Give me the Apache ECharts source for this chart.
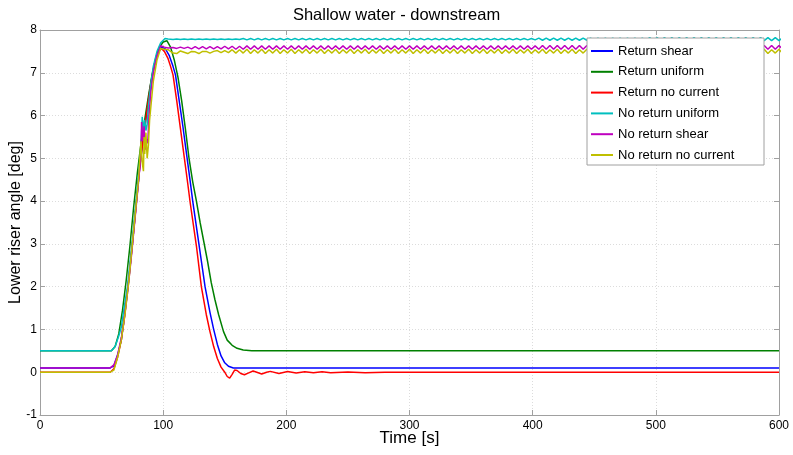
<!DOCTYPE html>
<html>
<head>
    <meta charset="utf-8">
    <title>Shallow water - downstream</title>
    <script src="https://cdn.jsdelivr.net/npm/echarts@6/dist/echarts.min.js"></script>
</head>
<body style="margin:0;background:#fff;">
<div id="main" style="width: 793px;height:455px;"></div>
<script type="text/javascript">

    // 图例名称
    let names = ['Return shear', 'Return uniform', 'Return no current',
        'No return uniform', 'No return shear', 'No return no current'];
    let colors = ['#0000ff', '#008000', '#ff0000', '#00bfbf', '#bf00bf', '#bfbf00'];

    // 刻度
    let xTicks = [0, 100, 200, 300, 400, 500, 600];
    let yTicks = [-1, 0, 1, 2, 3, 4, 5, 6, 7, 8];

    // [t, angle] 读图所得
    let returnShear = [[0, 0.1], [57, 0.1], [60, 0.15], [63, 0.4], [66, 0.75], [69, 1.4], [72, 2.15], [75, 3.0],
        [78, 3.9], [81, 4.8], [84, 5.5], [87, 6.15], [90, 6.75], [93, 7.2], [96, 7.5], [99, 7.6], [102, 7.55],
        [105, 7.4], [108, 7.15], [110, 6.95], [113, 6.35], [116, 5.75], [119, 5.1], [122, 4.45], [124, 4.0],
        [129, 3.0], [134, 2.0], [138, 1.4], [141, 1.0], [144, 0.65], [147, 0.38], [150, 0.22], [153, 0.14],
        [157, 0.1], [600, 0.1]];

    let returnUniform = [[0, 0.5], [58, 0.5], [61, 0.6], [64, 0.9], [67, 1.45], [70, 2.15], [73, 2.95],
        [76, 3.85], [79, 4.65], [82, 5.35], [85, 5.9], [88, 6.45], [91, 6.95], [94, 7.35], [97, 7.6], [100, 7.72],
        [103, 7.75], [106, 7.6], [109, 7.3], [112, 6.9], [115, 6.35], [118, 5.7], [121, 5.0], [124, 4.45],
        [127, 4.0], [130, 3.5], [133, 3.05], [136, 2.6], [139, 2.1], [142, 1.7], [145, 1.35], [149, 0.95],
        [152, 0.75], [156, 0.63], [160, 0.56], [165, 0.52], [172, 0.5], [600, 0.5]];

    let returnNoCurrent = [[0, 0], [57, 0], [60, 0.08], [63, 0.35], [66, 0.75], [69, 1.4], [72, 2.15], [75, 3.0],
        [78, 3.9], [81, 4.8], [84, 5.5], [87, 6.15], [90, 6.75], [93, 7.2], [96, 7.48], [98.5, 7.57], [101, 7.5],
        [104, 7.33], [106, 7.15], [108, 6.95], [111, 6.35], [114, 5.7], [117, 5.05], [120, 4.4], [122, 3.95],
        [127, 2.95], [131, 2.0], [135, 1.35], [138, 0.95], [141, 0.6], [144, 0.32], [147, 0.12], [150, 0.0],
        [152, -0.1], [154, -0.14], [156, -0.05], [158, 0.05], [160, 0.04], [163, -0.03], [166, -0.06],
        [169, -0.02], [173, 0.03], [176, 0.0], [180, -0.04], [184, 0.0], [187, 0.02], [194, -0.03], [201, 0.015],
        [208, -0.02], [215, 0.01], [222, -0.015], [229, 0.01], [236, -0.01], [250, 0.005], [264, -0.01],
        [280, 0.0], [600, 0.0]];

    // 上升段 (到 t=104)
    let noReturnUniformRise = [[0, 0.5], [58, 0.5], [61, 0.6], [64, 0.85], [66, 1.05], [68, 1.45], [71, 2.0],
        [74, 2.8], [77, 3.7], [80, 4.6], [82, 5.3], [83, 5.97], [84, 5.6], [85, 5.9], [86, 5.65], [87, 5.8],
        [88, 6.2], [90, 6.75], [92, 7.15], [95, 7.5], [98, 7.7], [101.5, 7.8], [104, 7.79]];

    let noReturnShearRise = [[0, 0.1], [57, 0.1], [60, 0.17], [63, 0.4], [66, 0.8], [68, 1.15], [71, 1.85],
        [74, 2.65], [77, 3.55], [80, 4.45], [82, 5.1], [82.5, 5.85], [83.5, 5.4], [84.5, 5.75], [85.5, 5.2],
        [86.5, 5.45], [87.5, 5.35], [88.5, 6.0], [90, 6.55], [92, 7.0], [95, 7.4], [98, 7.63], [101, 7.6],
        [104, 7.58]];

    let noReturnNoCurrentRise = [[0, 0], [57, 0], [60, 0.05], [63, 0.35], [66, 0.75], [69, 1.35], [72, 2.1],
        [75, 3.0], [78, 3.9], [80, 4.5], [81, 5.0], [82, 5.4], [83, 4.9], [84, 4.7], [84.5, 5.5], [85, 5.1],
        [86, 5.6], [87, 5.0], [88, 5.3], [89, 5.9], [90, 6.2], [92, 6.8], [95, 7.3], [98, 7.57], [101, 7.55],
        [104, 7.54]];

    // 平台段, 从 t=105 起每 3 s 一个值
    let tailStart = 105;
    let tailStep = 3;

    let noReturnUniformTail = [
        7.79, 7.78, 7.79, 7.78, 7.79, 7.78, 7.79, 7.78, 7.79, 7.78,
        7.79, 7.78, 7.79, 7.78, 7.79, 7.78, 7.79, 7.78, 7.79, 7.78,
        7.80, 7.77, 7.80, 7.77, 7.80, 7.77, 7.80, 7.77, 7.80, 7.77,
        7.80, 7.77, 7.80, 7.77, 7.80, 7.77, 7.80, 7.77, 7.80, 7.77,
        7.80, 7.77, 7.80, 7.77, 7.80, 7.77, 7.80, 7.77, 7.80, 7.77,
        7.80, 7.77, 7.80, 7.77, 7.80, 7.77, 7.80, 7.77, 7.80, 7.77,
        7.80, 7.77, 7.80, 7.77, 7.80, 7.77, 7.80, 7.77, 7.80, 7.77,
        7.80, 7.77, 7.80, 7.77, 7.80, 7.77, 7.80, 7.77, 7.80, 7.77,
        7.80, 7.77, 7.80, 7.77, 7.80, 7.77, 7.80, 7.77, 7.80, 7.77,
        7.80, 7.77, 7.80, 7.77, 7.80, 7.77, 7.80, 7.77, 7.80, 7.77,
        7.81, 7.76, 7.81, 7.76, 7.81, 7.76, 7.81, 7.76, 7.81, 7.76,
        7.81, 7.76, 7.81, 7.76, 7.81, 7.76, 7.81, 7.76, 7.81, 7.76,
        7.81, 7.76, 7.81, 7.76, 7.81, 7.76, 7.81, 7.76, 7.81, 7.76,
        7.82, 7.75, 7.82, 7.75, 7.82, 7.75, 7.82, 7.75, 7.82, 7.75,
        7.82, 7.75, 7.82, 7.75, 7.82, 7.75, 7.82, 7.75, 7.82, 7.75,
        7.82, 7.75, 7.82, 7.75, 7.82, 7.75, 7.82, 7.75, 7.82, 7.75,
        7.82, 7.75, 7.82, 7.75, 7.82, 7.75, 7.82];

    let noReturnShearTail = [
        7.57, 7.59, 7.57, 7.60, 7.57, 7.60, 7.56, 7.61, 7.56, 7.61,
        7.56, 7.61, 7.56, 7.61, 7.56, 7.62, 7.56, 7.62, 7.55, 7.62,
        7.55, 7.63, 7.55, 7.63, 7.55, 7.63, 7.55, 7.63, 7.55, 7.63,
        7.55, 7.63, 7.55, 7.63, 7.55, 7.63, 7.55, 7.63, 7.55, 7.63,
        7.55, 7.63, 7.55, 7.63, 7.55, 7.63, 7.55, 7.63, 7.55, 7.63,
        7.55, 7.63, 7.55, 7.63, 7.55, 7.63, 7.55, 7.63, 7.55, 7.63,
        7.55, 7.63, 7.55, 7.63, 7.55, 7.63, 7.55, 7.63, 7.55, 7.63,
        7.55, 7.63, 7.55, 7.63, 7.55, 7.63, 7.55, 7.63, 7.55, 7.63,
        7.55, 7.63, 7.55, 7.63, 7.55, 7.63, 7.55, 7.63, 7.55, 7.63,
        7.55, 7.63, 7.55, 7.63, 7.55, 7.63, 7.55, 7.63, 7.55, 7.63,
        7.55, 7.64, 7.55, 7.64, 7.55, 7.64, 7.55, 7.64, 7.55, 7.64,
        7.55, 7.64, 7.55, 7.64, 7.55, 7.64, 7.55, 7.64, 7.55, 7.64,
        7.55, 7.64, 7.55, 7.64, 7.55, 7.64, 7.55, 7.64, 7.55, 7.64,
        7.55, 7.64, 7.55, 7.64, 7.55, 7.64, 7.55, 7.64, 7.55, 7.64,
        7.55, 7.64, 7.55, 7.64, 7.55, 7.64, 7.55, 7.64, 7.55, 7.64,
        7.55, 7.64, 7.55, 7.64, 7.55, 7.64, 7.55, 7.64, 7.55, 7.64,
        7.55, 7.64, 7.55, 7.64, 7.55, 7.64, 7.55];

    let noReturnNoCurrentTail = [
        7.52, 7.46, 7.45, 7.51, 7.48, 7.45, 7.50, 7.49, 7.45, 7.50,
        7.50, 7.46, 7.50, 7.52, 7.47, 7.52, 7.47, 7.54, 7.46, 7.54,
        7.46, 7.55, 7.45, 7.54, 7.46, 7.55, 7.45, 7.54, 7.46, 7.55,
        7.45, 7.54, 7.46, 7.55, 7.45, 7.54, 7.46, 7.55, 7.45, 7.54,
        7.46, 7.55, 7.45, 7.54, 7.46, 7.55, 7.45, 7.54, 7.46, 7.55,
        7.45, 7.54, 7.46, 7.55, 7.45, 7.54, 7.46, 7.55, 7.45, 7.54,
        7.46, 7.55, 7.45, 7.54, 7.46, 7.55, 7.45, 7.54, 7.46, 7.55,
        7.45, 7.54, 7.46, 7.55, 7.45, 7.54, 7.46, 7.55, 7.45, 7.54,
        7.46, 7.55, 7.45, 7.54, 7.46, 7.55, 7.45, 7.54, 7.46, 7.55,
        7.45, 7.54, 7.46, 7.55, 7.45, 7.54, 7.46, 7.55, 7.45, 7.54,
        7.46, 7.55, 7.45, 7.54, 7.46, 7.55, 7.45, 7.54, 7.46, 7.55,
        7.45, 7.54, 7.46, 7.55, 7.45, 7.54, 7.46, 7.55, 7.45, 7.54,
        7.46, 7.55, 7.45, 7.54, 7.46, 7.55, 7.45, 7.54, 7.46, 7.55,
        7.45, 7.54, 7.46, 7.55, 7.45, 7.54, 7.46, 7.55, 7.45, 7.54,
        7.46, 7.55, 7.45, 7.54, 7.46, 7.55, 7.45, 7.54, 7.46, 7.55,
        7.45, 7.54, 7.46, 7.55, 7.45, 7.54, 7.46, 7.55, 7.45, 7.54,
        7.46, 7.55, 7.45, 7.54, 7.46, 7.55, 7.45];

    // 方法
    function withTail(rise, tail) {
        let out = rise.slice();
        tail.forEach(function (v, i) {
            out.push([tailStart + i * tailStep, v]);
        });
        return out;
    }

    let seriesData = [
        returnShear,
        returnUniform,
        returnNoCurrent,
        withTail(noReturnUniformRise, noReturnUniformTail),
        withTail(noReturnShearRise, noReturnShearTail),
        withTail(noReturnNoCurrentRise, noReturnNoCurrentTail)
    ];

    let font = 'Liberation Sans, Arial, Helvetica, sans-serif';
    let axisGray = '#a0a0a0';

    function baseAxis(ticks) {
        return {
            type: 'value',
            min: ticks[0],
            max: ticks[ticks.length - 1],
            interval: ticks[1] - ticks[0],
            axisLine: {show: true, onZero: false, lineStyle: {color: axisGray, width: 1}},
            axisTick: {show: true, inside: true, length: 5, lineStyle: {color: axisGray}}
        };
    }

    let xBottom = Object.assign(baseAxis(xTicks), {
        position: 'bottom',
        name: 'Time [s]',
        nameLocation: 'middle',
        nameGap: 15,
        nameMoveOverlap: false,
        nameTextStyle: {fontSize: 17, color: '#000', fontFamily: font},
        axisLabel: {color: '#000', fontSize: 12, margin: 5, fontFamily: font},
        splitLine: {show: true, lineStyle: {color: '#dcdcdc', type: [1, 2], width: 1}}
    });
    let xTop = Object.assign(baseAxis(xTicks), {
        position: 'top',
        axisLabel: {show: false},
        splitLine: {show: false}
    });
    let yLeft = Object.assign(baseAxis(yTicks), {
        position: 'left',
        name: 'Lower riser angle [deg]',
        nameLocation: 'middle',
        nameGap: 16,
        nameMoveOverlap: false,
        nameTextStyle: {fontSize: 16, color: '#000', fontFamily: font},
        axisLabel: {color: '#000', fontSize: 12, margin: 3, fontFamily: font},
        splitLine: {show: true, lineStyle: {color: '#dcdcdc', type: [1, 2], width: 1}}
    });
    let yRight = Object.assign(baseAxis(yTicks), {
        position: 'right',
        axisLabel: {show: false},
        splitLine: {show: false}
    });

    let option = {
        animation: false,
        backgroundColor: '#fff',
        textStyle: {fontFamily: font},
        title: {
            text: 'Shallow water - downstream',
            left: 'center',
            top: 2,
            textStyle: {fontSize: 16.5, fontWeight: 'normal', color: '#000', fontFamily: font}
        },
        grid: {left: 40, right: 14, top: 30, bottom: 40, containLabel: false, outerBoundsMode: 'none'},
        xAxis: [xBottom, xTop],
        yAxis: [yLeft, yRight],
        legend: {
            data: names,
            orient: 'vertical',
            left: 591,
            top: 44,
            icon: 'rect',
            itemWidth: 22,
            itemHeight: 2,
            itemGap: 6.8,
            padding: 0,
            z: 10,
            textStyle: {fontSize: 13, lineHeight: 14, color: '#000', fontFamily: font}
        },
        graphic: [{
            type: 'rect',
            z: 9,
            shape: {x: 587, y: 38, width: 177, height: 127},
            style: {fill: '#fff', stroke: axisGray, lineWidth: 1}
        }],
        series: names.map(function (n, i) {
            return {
                name: n,
                type: 'line',
                data: seriesData[i],
                symbol: 'none',
                showSymbol: false,
                clip: true,
                lineStyle: {color: colors[i], width: 1.5},
                itemStyle: {color: colors[i]}
            };
        })
    };

    let myChart = echarts.init(document.getElementById('main'));
    myChart.setOption(option);
</script>
</body>
</html>
